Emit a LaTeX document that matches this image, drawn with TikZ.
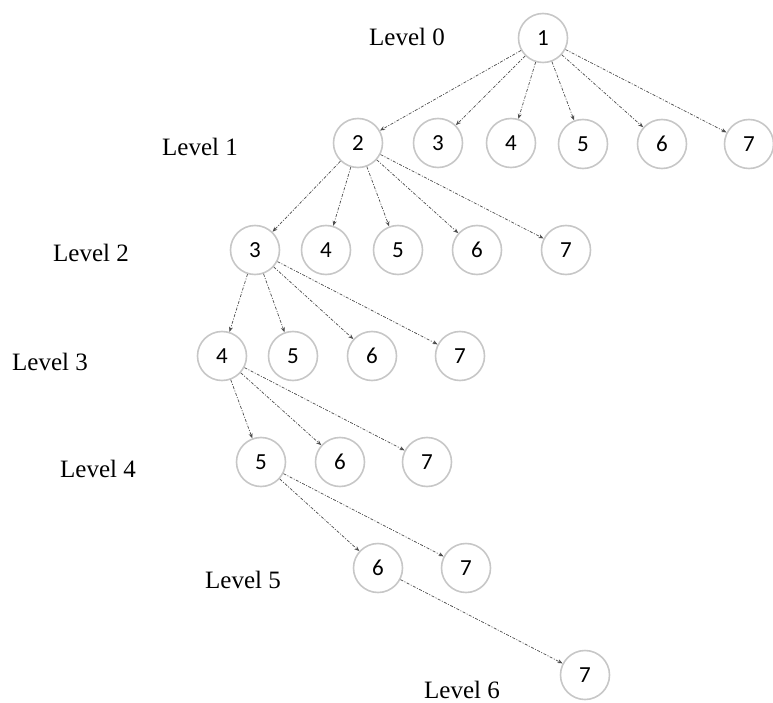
\documentclass[tikz,border=0pt]{standalone}
\usepackage{fontspec}
\setmainfont{Liberation Serif}
\newfontfamily\numfont{Carlito}
\usetikzlibrary{arrows.meta}
\begin{document}
\begin{tikzpicture}[x=1pt,y=-1pt,
  vertex/.style={circle,draw=black!22,line width=1.6pt,minimum size=49pt,inner sep=0pt,
    font=\numfont\fontsize{23}{23}\selectfont},
  levellabel/.style={font=\fontsize{25}{25}\selectfont,inner sep=0pt},
  link/.style={draw=black!70,line width=0.7pt,dash pattern=on 3pt off 1.5pt on 1pt off 1.5pt,
    -{Stealth[length=5pt,width=4pt]}}]
\useasboundingbox (0,0) rectangle (773,703);
% level labels
\node[levellabel] (l0) at (407,37) {Level 0};
\node[levellabel] (l1) at (200,147) {Level 1};
\node[levellabel] (l2) at (91,253) {Level 2};
\node[levellabel] (l3) at (50,362) {Level 3};
\node[levellabel] (l4) at (98,469) {Level 4};
\node[levellabel] (l5) at (243,580) {Level 5};
\node[levellabel] (l6) at (462,690) {Level 6};
% level 0
\node[vertex] (a1) at (543,38) {1};
% level 1
\node[vertex] (b2) at (358,143) {2};
\node[vertex] (b3) at (438,143) {3};
\node[vertex] (b4) at (511,143) {4};
\node[vertex] (b5) at (583,144) {5};
\node[vertex] (b6) at (662,144) {6};
\node[vertex] (b7) at (749,144) {7};
% level 2
\node[vertex] (c3) at (255,250) {3};
\node[vertex] (c4) at (326,250) {4};
\node[vertex] (c5) at (398,250) {5};
\node[vertex] (c6) at (477,250) {6};
\node[vertex] (c7) at (566,250) {7};
% level 3
\node[vertex] (d4) at (222,356) {4};
\node[vertex] (d5) at (293,356) {5};
\node[vertex] (d6) at (372,356) {6};
\node[vertex] (d7) at (460,356) {7};
% level 4
\node[vertex] (e5) at (261,462) {5};
\node[vertex] (e6) at (340,462) {6};
\node[vertex] (e7) at (427,462) {7};
% level 5
\node[vertex] (f6) at (378,568) {6};
\node[vertex] (f7) at (466,568) {7};
% level 6
\node[vertex] (g7) at (585,675) {7};
% edges
\foreach \t in {b2,b3,b4,b5,b6,b7} \draw[link] (a1) -- (\t);
\foreach \t in {c3,c4,c5,c6,c7} \draw[link] (b2) -- (\t);
\foreach \t in {d4,d5,d6,d7} \draw[link] (c3) -- (\t);
\foreach \t in {e5,e6,e7} \draw[link] (d4) -- (\t);
\foreach \t in {f6,f7} \draw[link] (e5) -- (\t);
\draw[link] (f6) -- (g7);
\end{tikzpicture}
\end{document}
